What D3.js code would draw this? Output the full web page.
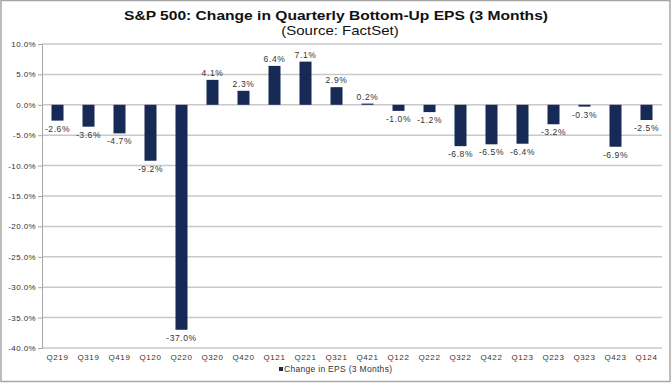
<!DOCTYPE html>
<html>
<head>
<meta charset="utf-8">
<script src="https://cdn.jsdelivr.net/npm/d3@7"></script>
<style>
  body { margin: 0; background: #fff; }
  svg { font-family: "Liberation Sans", Arial, sans-serif; }
</style>
</head>
<body>
<div id="chart"></div>
<script>
var quarters = ["Q219","Q319","Q419","Q120","Q220","Q320","Q420","Q121","Q221","Q321",
                "Q421","Q122","Q222","Q322","Q422","Q123","Q223","Q323","Q423","Q124"];
var epsChange = [-2.6,-3.6,-4.7,-9.2,-37.0,4.1,2.3,6.4,7.1,2.9,
                 0.2,-1.0,-1.2,-6.8,-6.5,-6.4,-3.2,-0.3,-6.9,-2.5];
var yTicks = [10,5,0,-5,-10,-15,-20,-25,-30,-35,-40];
var seriesName = "Change in EPS (3 Months)";

var width = 672, height = 384,
    margin = { top: 44, right: 10, bottom: 36, left: 42 },
    barColor = "#172a55";

var svg = d3.select("#chart").append("svg")
    .attr("width", width)
    .attr("height", height);

// outer frame
svg.append("rect")
    .attr("x", 1).attr("y", 0.5)
    .attr("width", 669).attr("height", 381)
    .attr("fill", "none")
    .attr("stroke", "#a6a6a6")
    .attr("stroke-width", 1.5);

var x = d3.scaleBand()
    .domain(quarters)
    .range([margin.left, 662]);

var y = d3.scaleLinear()
    .domain([-40, 10])
    .range([348, margin.top]);

// gridlines
svg.append("g")
  .selectAll("line")
  .data(yTicks)
  .enter().append("line")
    .attr("x1", margin.left).attr("x2", 662)
    .attr("y1", function(d) { return y(d); })
    .attr("y2", function(d) { return y(d); })
    .attr("stroke", "#c9c9c9")
    .attr("stroke-width", 1.5);

// y axis
var yAxis = d3.axisLeft(y)
    .tickValues(yTicks)
    .tickSize(4)
    .tickFormat(function(d) { return d.toFixed(1) + "%"; });

var gy = svg.append("g")
    .attr("transform", "translate(" + margin.left + ",0)")
    .call(yAxis);
gy.select(".domain").attr("stroke", "#a6a6a6");
gy.selectAll(".tick line").attr("stroke", "#a6a6a6");
gy.selectAll(".tick text")
    .attr("x", -6)
    .attr("fill", "#333")
    .style("font-size", "8px")
    .style("letter-spacing", "0.4px");

// x labels
svg.append("g")
  .selectAll("text")
  .data(quarters)
  .enter().append("text")
    .attr("x", function(d) { return x(d) + x.bandwidth() / 2; })
    .attr("y", 360)
    .attr("text-anchor", "middle")
    .attr("fill", "#333")
    .style("font-size", "8px")
    .style("letter-spacing", "0.6px")
    .text(function(d) { return d; });

// bars
var barW = 12;
svg.append("g")
  .selectAll("rect")
  .data(epsChange)
  .enter().append("rect")
    .attr("x", function(d, i) { return x(quarters[i]) + (x.bandwidth() - barW) / 2; })
    .attr("y", function(d) { return y(Math.max(0, d)); })
    .attr("width", barW)
    .attr("height", function(d) { return Math.abs(y(d) - y(0)); })
    .attr("fill", barColor);

// value labels
svg.append("g")
  .selectAll("text")
  .data(epsChange)
  .enter().append("text")
    .attr("x", function(d, i) { return x(quarters[i]) + x.bandwidth() / 2; })
    .attr("y", function(d) { return d >= 0 ? y(d) - 4 : y(d) + 11; })
    .attr("text-anchor", "middle")
    .attr("fill", "#333")
    .style("font-size", "8.5px")
    .style("letter-spacing", "0.6px")
    .text(function(d) { return d.toFixed(1) + "%"; });

// title (the original is horizontally stretched)
svg.append("text")
    .attr("transform", "translate(336,20) scale(1.2,1)")
    .attr("text-anchor", "middle")
    .attr("font-weight", "bold")
    .style("font-size", "13px")
    .attr("fill", "#111")
    .text("S&P 500: Change in Quarterly Bottom-Up EPS (3 Months)");

svg.append("text")
    .attr("transform", "translate(340,35) scale(1.2,1)")
    .attr("text-anchor", "middle")
    .style("font-size", "12.5px")
    .attr("fill", "#111")
    .text("(Source: FactSet)");

// legend
var legend = svg.append("g").attr("transform", "translate(279,372)");
legend.append("rect")
    .attr("x", 0).attr("y", -5)
    .attr("width", 4).attr("height", 4)
    .attr("fill", barColor);
legend.append("text")
    .attr("x", 5).attr("y", 0)
    .attr("fill", "#333")
    .style("font-size", "8.5px")
    .style("letter-spacing", "0.3px")
    .text(seriesName);
</script>
</body>
</html>
